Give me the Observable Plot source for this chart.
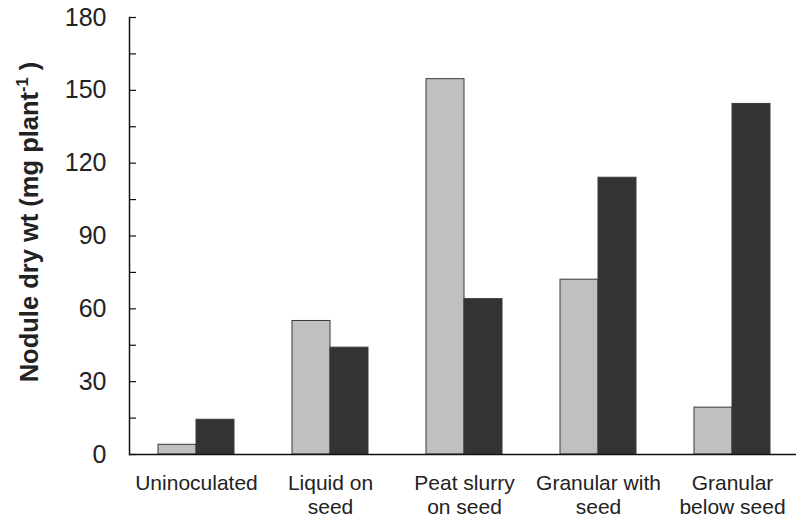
<!DOCTYPE html>
<html>
<head>
<meta charset="utf-8">
<script src="https://cdn.jsdelivr.net/npm/d3@7"></script>
<script src="https://cdn.jsdelivr.net/npm/@observablehq/plot@0.6"></script>
<style>
  html, body { margin: 0; padding: 0; background: #fff; }
</style>
</head>
<body>
<div id="chart"></div>
<script>
const categories = ["Uninoculated", "Liquid on seed", "Peat slurry on seed", "Granular with seed", "Granular below seed"];
const tickLabels = ["Uninoculated", "Liquid on\nseed", "Peat slurry\non seed", "Granular with\nseed", "Granular\nbelow seed"];
const seriesNames = ["Series 1", "Series 2"];
const lightValues = [4, 55, 154.6, 72, 19.3];
const darkValues = [14.3, 44, 64, 114, 144.4];
const yTicks = [0, 15, 30, 45, 60, 75, 90, 105, 120, 135, 150, 165, 180];

const data = categories.flatMap((c, i) => [
  {category: c, series: seriesNames[0], value: lightValues[i]},
  {category: c, series: seriesNames[1], value: darkValues[i]}
]);

const plot = Plot.plot({
  width: 796,
  height: 517,
  marginLeft: 127,
  marginRight: -4,
  marginTop: 17,
  marginBottom: 63,
  style: {fontFamily: "'Liberation Sans', Arial, sans-serif", color: "#222", background: "#fff", overflow: "hidden"},
  fx: {domain: categories, padding: 0, label: null},
  x: {domain: seriesNames, paddingInner: 0, paddingOuter: 0.75, axis: null},
  y: {domain: [0, 180]},
  color: {domain: seriesNames, range: ["#c0c0c0", "#333333"]},
  marks: [
    Plot.barY(data, {fx: "category", x: "series", y: "value", fill: "series", stroke: "#3a3a3a", strokeWidth: 1}),
    Plot.ruleY([0], {stroke: "#111", strokeWidth: 1.5}),
    Plot.frame({anchor: "left", facetAnchor: "left", stroke: "#111", strokeWidth: 1.5}),
    Plot.axisY(yTicks, {
      tickSize: 7, insetLeft: 7, tickPadding: 23, fontSize: 25, label: null,
      stroke: "#111", strokeWidth: 1.2,
      tickFormat: d => d % 30 ? "" : String(d)
    }),
    Plot.axisFx({
      anchor: "bottom",
      tickSize: 0, tickPadding: 19, fontSize: 21, lineHeight: 1.12, label: null,
      tickFormat: d => tickLabels[categories.indexOf(d)]
    })
  ]
});

document.getElementById("chart").appendChild(plot);

// Y-axis title with superscript
const svg = d3.select(plot);
const title = svg.append("text")
  .attr("transform", "translate(38,222) rotate(-90)")
  .attr("text-anchor", "middle")
  .attr("font-weight", "bold")
  .attr("font-size", 25.5)
  .attr("fill", "#222")
  .attr("font-family", "'Liberation Sans', Arial, sans-serif");
title.append("tspan").text("Nodule dry wt (mg plant");
title.append("tspan").attr("dy", -10).attr("font-size", 16.5).text("-1");
title.append("tspan").attr("dy", 10).text(" )");
</script>
</body>
</html>
